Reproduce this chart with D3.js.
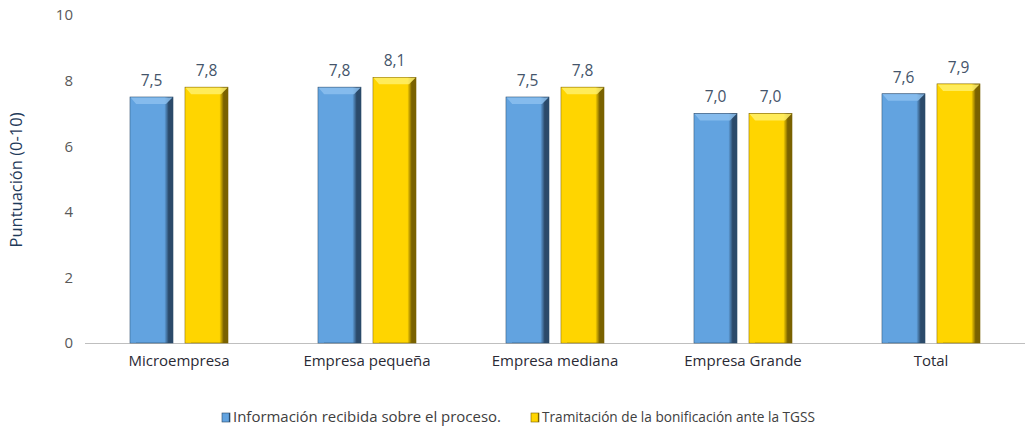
<!DOCTYPE html>
<html><head><meta charset="utf-8">
<script src="https://cdn.jsdelivr.net/npm/d3@7"></script>
<style>body{margin:0;background:#fff}svg text{font-family:"Open Sans","Noto Sans",sans-serif}</style>
</head><body><svg id="c" width="1028" height="430"></svg>
<script>
const categories = ["Microempresa","Empresa pequeña","Empresa mediana","Empresa Grande","Total"];
const seriesNames = ["Información recibida sobre el proceso.","Tramitación de la bonificación ante la TGSS"];
const informacion = [7.5,7.8,7.5,7.0,7.6];
const tramitacion = [7.8,8.1,7.8,7.0,7.9];
const yTicks = [0,2,4,6,8,10];

const svg = d3.select("#c");
const x = d3.scaleBand().domain(categories).range([85,1025]);
const y = d3.scaleLinear().domain([0,10]).range([343,15]);
const barW = 43, gap = 12;

const defs = svg.append("defs");
const pal = [
  {id:"gb", light:"#8cc0ee", main:"#62a3e0", dark:"#2b4a6a"},
  {id:"gy", light:"#fff06a", main:"#ffd500", dark:"#7a6200"}
];
pal.forEach(p=>{
  const g = defs.append("linearGradient").attr("id",p.id).attr("x1","0").attr("x2","1");
  g.append("stop").attr("offset","0").attr("stop-color",p.main);
  g.append("stop").attr("offset","0.8").attr("stop-color",p.main);
  g.append("stop").attr("offset","0.9").attr("stop-color",p.dark);
  g.append("stop").attr("offset","1").attr("stop-color",p.dark);
});

const ya = svg.append("g").attr("transform","translate(73,0)")
  .call(d3.axisLeft(y).tickValues(yTicks).tickSize(0).tickPadding(0));
ya.select(".domain").remove();
ya.selectAll("text").attr("font-size",15).attr("fill","#595959");

const xa = svg.append("g").attr("transform","translate(0,343)")
  .call(d3.axisBottom(x).tickSize(0).tickPadding(12));
xa.select(".domain").attr("stroke","#bfbfbf").attr("d","M85,0.5H1025");
xa.selectAll("text").attr("font-size",15).attr("fill","#2a2a35");

svg.append("text").attr("transform","translate(22,180) rotate(-90)")
  .attr("text-anchor","middle").attr("font-size",16.5).attr("fill","#1f3a5a")
  .text("Puntuación (0-10)");

const series = [informacion, tramitacion];
series.forEach((vals,si)=>{
  const p = pal[si];
  const g = svg.append("g");
  categories.forEach((c,i)=>{
    const cx = x(c)+x.bandwidth()/2;
    const x0 = si===0 ? cx-gap/2-barW : cx+gap/2;
    const top = y(vals[i]), h = y(0)-top;
    g.append("rect").attr("x",x0).attr("y",top).attr("width",barW).attr("height",h)
      .attr("fill",`url(#${p.id})`).attr("stroke",p.dark).attr("stroke-width",0.6);
    g.append("path").attr("d",`M${x0+0.5},${top+0.5}H${x0+barW-0.5}L${x0+barW-7},${top+7}H${x0+6}Z`)
      .attr("fill",p.light).attr("opacity",0.85);
    g.append("path").attr("d",`M${x0+0.5},${top+0.5}L${x0+6},${top+7}V${top+h}H${x0+0.5}Z`)
      .attr("fill",p.main).attr("opacity",0.6);
    svg.append("text").attr("x",x0+barW/2).attr("y",top-11).attr("text-anchor","middle")
      .attr("font-size",15.5).attr("fill","#44546a").text(d3.format(".1f")(vals[i]).replace(".",","));
  });
});

const leg = [{x:222,w:268,name:seriesNames[0],p:pal[0]},{x:531,w:273,name:seriesNames[1],p:pal[1]}];
leg.forEach(l=>{
  svg.append("rect").attr("x",l.x).attr("y",413).attr("width",8).attr("height",9)
    .attr("fill",`url(#${l.p.id})`).attr("stroke",l.p.dark).attr("stroke-width",0.6);
  svg.append("text").attr("x",l.x+11).attr("y",422).attr("font-size",14.8).attr("fill","#404040")
    .attr("textLength",l.w).attr("lengthAdjust","spacingAndGlyphs").text(l.name);
});
</script></body></html>
